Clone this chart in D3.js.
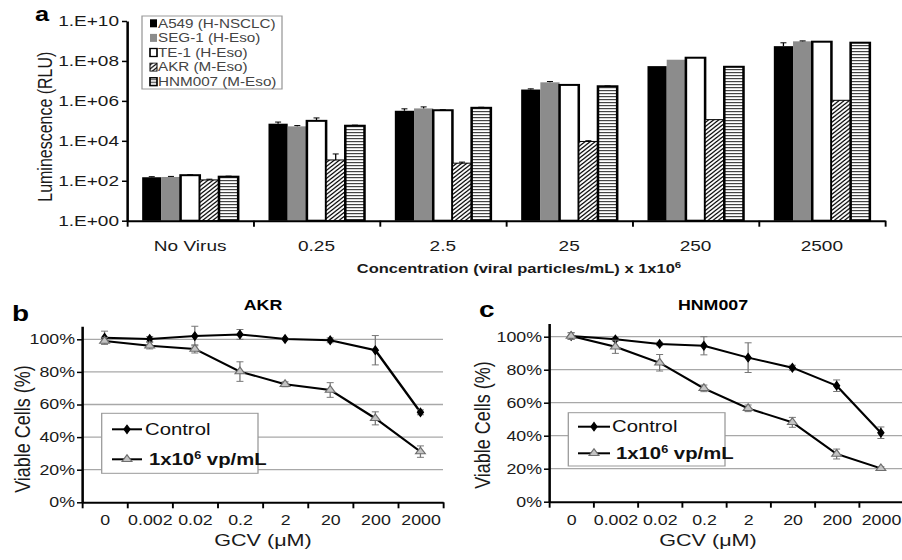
<!DOCTYPE html>
<html>
<head>
<meta charset="utf-8">
<title>Luminescence and GCV viability</title>
<style>
	body { margin: 0; background: #fff; }
	svg { display: block; font-family: "Liberation Sans", Arial, sans-serif; }
	.axis path, .axis line { stroke: #000; }
	.axis text { fill: #1a1a1a; }
</style>
</head>
<body>
<svg id="canvas" width="902" height="560"></svg>
<script src="https://cdn.jsdelivr.net/npm/d3@7"></script>
<script>
	// panel a: luminescence per dose and cell line
	let doses = ["No Virus", "0.25", "2.5", "25", "250", "2500"];
	let cellLines = ["A549 (H-NSCLC)", "SEG-1 (H-Eso)", "TE-1 (H-Eso)", "AKR (M-Eso)", "HNM007 (M-Eso)"];
	let a549 = [150, 7.2e4, 3.2e5, 3.7e6, 5.5e7, 5.5e8];
	let seg1 = [155, 5.3e4, 4.2e5, 8.5e6, 1.15e8, 9.6e8];
	let te1  = [190, 1.0e5, 3.4e5, 6.3e6, 1.45e8, 9.2e8];
	let akr  = [110, 1.1e3, 7.6e2, 9.3e3, 1.15e5, 1.07e6];
	let hnm  = [160, 5.7e4, 4.5e5, 5.4e6, 5.1e7, 8.2e8];
	let a549Err = [10, 1.5e4, 8e4, 3e5, 0, 2.6e8];
	let seg1Err = [10, 5e3, 8e4, 8e5, 0, 5e7];
	let te1Err  = [10, 4e4, 2e4, 3e5, 0, 0];
	let akrErr  = [10, 1.1e3, 1e2, 8e2, 0, 0];
	let hnmErr  = [10, 4e3, 3e4, 2e5, 0, 0];
	let lumTicks = [1, 1e2, 1e4, 1e6, 1e8, 1e10];

	// panels b and c: viability vs GCV
	let gcv = ["0", "0.002", "0.02", "0.2", "2", "20", "200", "2000"];
	let akrControl    = [101.0, 100.2, 102.0, 103.0, 100.2, 99.4, 93.3, 55.2];
	let akrControlErr = [4, 1.5, 6, 3, 0.5, 1.5, 9, 1.5];
	let akrVirus      = [99.0, 96.1, 94.1, 80.2, 72.4, 68.9, 51.5, 31.1];
	let akrVirusErr   = [2, 2, 2.5, 6, 1.5, 4.5, 4, 3.5];
	let hnmControl    = [100.4, 98.4, 95.6, 94.5, 87.3, 81.2, 70.3, 41.8];
	let hnmControlErr = [2, 1, 1, 5.5, 9, 1.5, 3.5, 3.5];
	let hnmVirus      = [100.4, 93.9, 84.2, 68.7, 56.6, 48.1, 28.9, 20.2];
	let hnmVirusErr   = [2, 4, 5, 2, 2, 3, 3, 1];
	let pctTicks = [0, 20, 40, 60, 80, 100];

	// the figure is stretched horizontally, so draw in a narrower space
	const K = 1.27;
	const X = v => v / K;
	let svg = d3.select("#canvas")
		.attr("viewBox", "0 0 " + (902 / K) + " 560")
		.attr("preserveAspectRatio", "none");

	let defs = svg.append("defs");
	let hatch = defs.append("pattern").attr("id", "hatch")
		.attr("patternUnits", "userSpaceOnUse").attr("width", 4).attr("height", 4);
	hatch.append("rect").attr("width", 4).attr("height", 4).attr("fill", "#fff");
	hatch.append("path").attr("d", "M-1,1 L1,-1 M0,4 L4,0 M3,5 L5,3")
		.attr("stroke", "#000").attr("stroke-width", 1.1);
	let stripe = defs.append("pattern").attr("id", "stripe")
		.attr("patternUnits", "userSpaceOnUse").attr("width", 4).attr("height", 3);
	stripe.append("rect").attr("width", 4).attr("height", 3).attr("fill", "#fff");
	stripe.append("rect").attr("width", 4).attr("height", 1.2).attr("fill", "#444");

	let barStyle = [
		{ fill: "#000", stroke: "none", sw: 0 },
		{ fill: "#8c8c8c", stroke: "none", sw: 0 },
		{ fill: "#fff", stroke: "#000", sw: 2 },
		{ fill: "url(#hatch)", stroke: "#000", sw: 1 },
		{ fill: "url(#stripe)", stroke: "#000", sw: 2 }
	];

	// ---------- panel a ----------
	let lum = [a549, seg1, te1, akr, hnm];
	let lumErr = [a549Err, seg1Err, te1Err, akrErr, hnmErr];

	let x0 = d3.scaleBand().domain(doses).range([X(127), X(885)]).paddingInner(0.24).paddingOuter(0.12);
	let x1 = d3.scaleBand().domain(cellLines).range([0, x0.bandwidth()]);
	let yA = d3.scaleLog().domain([1, 1e10]).range([220.7, 21]);

	let ga = svg.append("g");
	let groups = ga.selectAll(".dose").data(doses).join("g")
		.attr("transform", d => "translate(" + x0(d) + ",0)");
	groups.each(function(dose, i) {
		let cells = cellLines.map((c, j) => ({ c: c, j: j, v: lum[j][i], e: lumErr[j][i] }));
		let g = d3.select(this);
		g.selectAll("rect").data(cells).join("rect")
			.attr("x", d => x1(d.c))
			.attr("y", d => yA(d.v))
			.attr("width", x1.bandwidth())
			.attr("height", d => yA(1) - yA(d.v))
			.attr("fill", d => barStyle[d.j].fill)
			.attr("stroke", d => barStyle[d.j].stroke)
			.attr("stroke-width", d => barStyle[d.j].sw);
		let eb = g.selectAll(".err").data(cells.filter(d => d.e > 0)).join("g").attr("class", "err");
		eb.append("line")
			.attr("x1", d => x1(d.c) + x1.bandwidth() / 2).attr("x2", d => x1(d.c) + x1.bandwidth() / 2)
			.attr("y1", d => yA(d.v)).attr("y2", d => yA(d.v + d.e))
			.attr("stroke", "#000").attr("stroke-width", 1);
		eb.append("line")
			.attr("x1", d => x1(d.c) + x1.bandwidth() / 2 - X(3)).attr("x2", d => x1(d.c) + x1.bandwidth() / 2 + X(3))
			.attr("y1", d => yA(d.v + d.e)).attr("y2", d => yA(d.v + d.e))
			.attr("stroke", "#000").attr("stroke-width", 1);
	});

	// y axis
	ga.append("g").attr("class", "axis")
		.attr("transform", "translate(" + X(127) + ",0)")
		.call(d3.axisLeft(yA).tickValues(lumTicks)
			.tickFormat(d => "1.E+" + String(Math.round(Math.log10(d))).padStart(2, "0"))
			.tickSize(X(5)).tickSizeOuter(0).tickPadding(X(3)))
		.attr("font-family", null).attr("font-size", 15)
		.call(a => a.select(".domain").attr("stroke-width", 2))
		.call(a => a.selectAll(".tick line").attr("stroke-width", 1.5));

	// x axis: boundary ticks and category labels
	let xEdges = d3.scaleLinear().domain([0, doses.length]).range([X(127), X(885)]);
	ga.append("g").attr("class", "axis")
		.attr("transform", "translate(0,220.7)")
		.call(d3.axisBottom(xEdges).tickValues(d3.range(0, doses.length + 1)).tickFormat("")
			.tickSize(6).tickSizeOuter(0))
		.call(a => a.select(".domain").attr("stroke-width", 2))
		.call(a => a.selectAll(".tick line").attr("stroke-width", 1.5));
	ga.append("g").attr("class", "axis")
		.attr("transform", "translate(0,220.7)")
		.call(d3.axisBottom(x0).tickSize(0).tickPadding(20))
		.attr("font-family", null).attr("font-size", 15)
		.call(a => a.select(".domain").remove());

	ga.append("text")
		.attr("transform", "translate(" + X(45) + ",126.7) rotate(-90)")
		.attr("text-anchor", "middle").attr("dominant-baseline", "central")
		.attr("font-size", 16).attr("fill", "#1a1a1a")
		.text("Luminescence (RLU)");

	let xt = ga.append("text")
		.attr("x", X(519)).attr("y", 273)
		.attr("text-anchor", "middle").attr("font-size", 13).attr("font-weight", "bold").attr("fill", "#1a1a1a");
	xt.append("tspan").text("Concentration (viral particles/mL) x 1x10");
	xt.append("tspan").attr("dy", -5).attr("font-size", 9).text("6");

	ga.append("text").attr("x", X(35)).attr("y", 21)
		.attr("font-size", 20).attr("font-weight", "bold").text("a");

	// legend a
	let la = ga.append("g");
	la.append("rect").attr("x", X(142)).attr("y", 16).attr("width", X(282) - X(142)).attr("height", 73)
		.attr("fill", "#fff").attr("stroke", "#999").attr("stroke-width", 1);
	let li = la.selectAll(".item").data(cellLines).join("g")
		.attr("transform", (d, j) => "translate(0," + (23.3 + j * 14.6) + ")");
	li.append("rect")
		.attr("x", X(150)).attr("y", -4).attr("width", X(7)).attr("height", 8)
		.attr("fill", (d, j) => barStyle[j].fill)
		.attr("stroke", (d, j) => j >= 2 ? "#000" : "none")
		.attr("stroke-width", (d, j) => j === 3 ? 0.8 : 1.3);
	li.append("text")
		.attr("x", X(158)).attr("dy", "0.36em")
		.attr("font-size", 12).attr("fill", "#444")
		.text(d => d);

	// ---------- panels b and c ----------
	function viability(p) {
		let g = svg.append("g");
		let x = d3.scalePoint().domain(gcv).range([X(p.left), X(p.right)]).padding(0.5);
		let y = d3.scaleLinear().domain([0, 108]).range([p.y0, p.y0 - (p.y0 - p.y100) * 1.08]);

		g.selectAll(".grid").data(pctTicks.filter(d => d > 0)).join("line")
			.attr("x1", X(p.left)).attr("x2", X(p.gridRight))
			.attr("y1", d => y(d)).attr("y2", d => y(d))
			.attr("stroke", "#a8a8a8").attr("stroke-width", 1.3);

		g.append("g").attr("class", "axis")
			.attr("transform", "translate(" + X(p.left) + ",0)")
			.call(d3.axisLeft(y).tickValues(pctTicks).tickFormat(d => d + "%")
				.tickSize(X(5)).tickSizeOuter(0).tickPadding(X(2)))
			.attr("font-family", null).attr("font-size", 14)
			.call(a => a.select(".domain").attr("stroke-width", 2))
			.call(a => a.selectAll(".tick line").attr("stroke-width", 1.5));

		let edges = d3.scaleLinear().domain([0, gcv.length]).range([X(p.left), X(p.right)]);
		g.append("g").attr("class", "axis")
			.attr("transform", "translate(0," + p.y0 + ")")
			.call(d3.axisBottom(edges).tickValues(d3.range(0, gcv.length + 1)).tickFormat("")
				.tickSize(6).tickSizeOuter(0))
			.call(a => a.select(".domain").attr("stroke-width", 2))
			.call(a => a.selectAll(".tick line").attr("stroke-width", 1.5));
		g.append("g").attr("class", "axis")
			.attr("transform", "translate(0," + p.y0 + ")")
			.call(d3.axisBottom(x).tickSize(0).tickPadding(13))
			.attr("font-family", null).attr("font-size", 14)
			.call(a => a.select(".domain").remove());

		let line = d3.line().x((d, i) => x(gcv[i])).y(d => y(d));
		let series = [
			{ v: p.control, e: p.controlErr, sym: d3.symbol(d3.symbolDiamond, 20), fill: "#000", stroke: "#000" },
			{ v: p.virus, e: p.virusErr, sym: d3.symbol(d3.symbolTriangle, 26), fill: "#c4c4c4", stroke: "#6e6e6e" }
		];
		series.forEach(s => {
			g.append("path").attr("d", line(s.v))
				.attr("fill", "none").attr("stroke", "#000").attr("stroke-width", 2);
		});
		series.forEach(s => {
			let pts = s.v.map((v, i) => ({ x: x(gcv[i]), v: v, e: s.e[i] }));
			let eb = g.append("g").attr("stroke", "#777").attr("stroke-width", 1);
			eb.selectAll(".v").data(pts).join("line")
				.attr("x1", d => d.x).attr("x2", d => d.x)
				.attr("y1", d => y(d.v - d.e)).attr("y2", d => y(d.v + d.e));
			eb.selectAll(".cap").data(pts.flatMap(d => [d.v - d.e, d.v + d.e].map(c => ({ x: d.x, c: c })))).join("line")
				.attr("x1", d => d.x - X(3.5)).attr("x2", d => d.x + X(3.5))
				.attr("y1", d => y(d.c)).attr("y2", d => y(d.c));
			g.append("g").selectAll("path").data(pts).join("path")
				.attr("transform", d => "translate(" + d.x + "," + y(d.v) + ")")
				.attr("d", s.sym())
				.attr("fill", s.fill).attr("stroke", s.stroke).attr("stroke-width", 1);
		});

		g.append("text").attr("x", X(p.titleX)).attr("y", 310)
			.attr("text-anchor", "middle").attr("font-size", 14).attr("font-weight", "bold")
			.text(p.title);
		g.append("text").attr("x", X(p.letterX)).attr("y", p.letterY)
			.attr("font-size", 22).attr("font-weight", "bold").text(p.letter);

		g.append("text")
			.attr("transform", "translate(" + X(p.ylabX) + "," + p.ylabY + ") rotate(-90)")
			.attr("text-anchor", "middle").attr("dominant-baseline", "central")
			.attr("font-size", 18).attr("fill", "#1a1a1a")
			.text("Viable Cells (%)");
		g.append("text").attr("x", X(p.xlabX)).attr("y", 546)
			.attr("text-anchor", "middle").attr("font-size", 17).attr("fill", "#1a1a1a")
			.text("GCV (\u03bcM)");

		// legend
		let lg = g.append("g");
		lg.append("rect").attr("x", X(p.lg.x0)).attr("y", p.lg.y0)
			.attr("width", X(p.lg.x1) - X(p.lg.x0)).attr("height", p.lg.y1 - p.lg.y0)
			.attr("fill", "#fff").attr("stroke", "#999").attr("stroke-width", 1);
		let rows = [p.lg.r0, p.lg.r1];
		series.forEach((s, k) => {
			lg.append("line").attr("x1", X(p.lg.s0)).attr("x2", X(p.lg.s1))
				.attr("y1", rows[k]).attr("y2", rows[k])
				.attr("stroke", "#000").attr("stroke-width", 2);
			lg.append("path")
				.attr("transform", "translate(" + X((p.lg.s0 + p.lg.s1) / 2) + "," + rows[k] + ")")
				.attr("d", s.sym()).attr("fill", s.fill).attr("stroke", s.stroke).attr("stroke-width", 1);
		});
		lg.append("text").attr("x", X(p.lg.t)).attr("y", p.lg.r0).attr("dy", "0.36em")
			.attr("font-size", 16).attr("fill", "#111").text("Control");
		let vt = lg.append("text").attr("x", X(p.lg.t + 4)).attr("y", p.lg.r1).attr("dy", "0.36em")
			.attr("font-size", 16).attr("font-weight", "bold").attr("fill", "#111");
		vt.append("tspan").text("1x10");
		vt.append("tspan").attr("dy", -6).attr("font-size", 10).text("6");
		vt.append("tspan").attr("dy", 6).text(" vp/mL");
	}

	viability({
		left: 82, right: 443, gridRight: 443, y0: 502.3, y100: 339.3,
		control: akrControl, controlErr: akrControlErr, virus: akrVirus, virusErr: akrVirusErr,
		title: "AKR", titleX: 263, letter: "b", letterX: 12, letterY: 321,
		ylabX: 22, ylabY: 429, xlabX: 263,
		lg: { x0: 101.7, x1: 258, y0: 413.3, y1: 473.3, r0: 429.3, r1: 459.3, s0: 112, s1: 142, t: 145 }
	});
	viability({
		left: 549, right: 903, gridRight: 902, y0: 501.7, y100: 336.7,
		control: hnmControl, controlErr: hnmControlErr, virus: hnmVirus, virusErr: hnmVirusErr,
		title: "HNM007", titleX: 713, letter: "c", letterX: 479, letterY: 317,
		ylabX: 482, ylabY: 425, xlabX: 708,
		lg: { x0: 568.3, x1: 725, y0: 412.7, y1: 466, r0: 426.7, r1: 453.3, s0: 578, s1: 610, t: 612 }
	});
</script>
</body>
</html>
